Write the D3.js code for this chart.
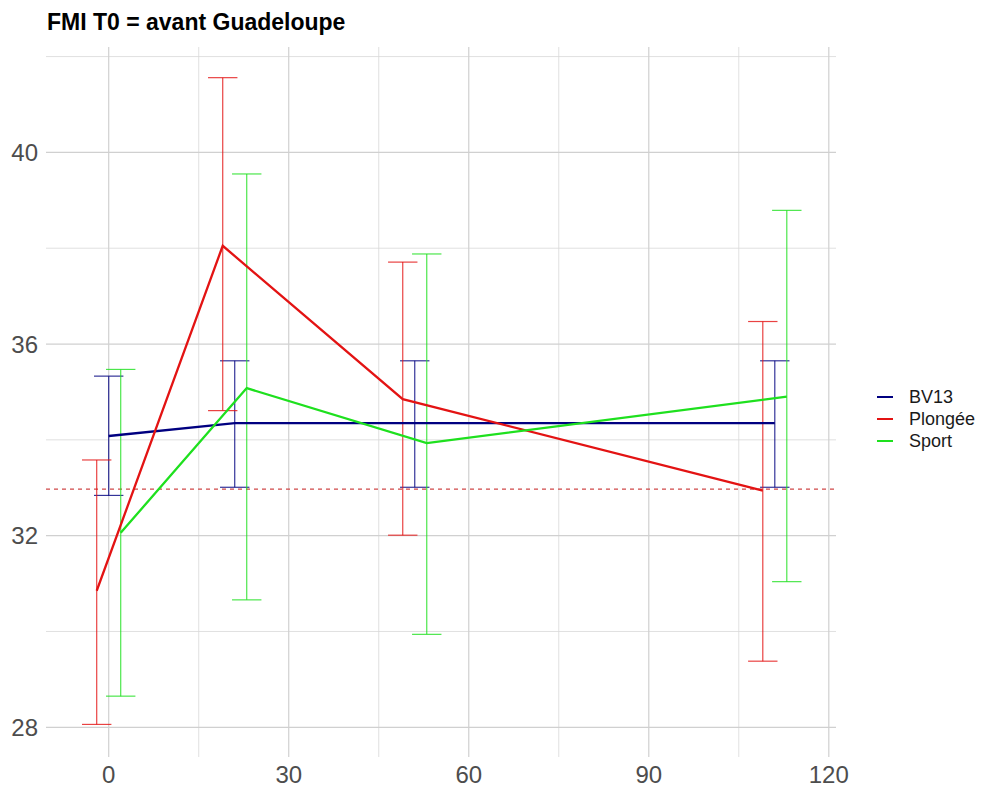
<!DOCTYPE html>
<html>
<head>
<meta charset="utf-8">
<script src="https://cdn.jsdelivr.net/npm/d3@7"></script>
<style>
  body { margin: 0; background: #fff; }
  svg { font-family: "Liberation Sans", Arial, sans-serif; }
</style>
</head>
<body>
<div id="chart"></div>
<script>
// FMI over time, mean +/- error per group

// measurement times (x)
const times = [0, 21, 51, 111];

// group names and colours
const groups = ["BV13", "Plongée", "Sport"];
const colors = ["#000080", "#e31313", "#1ee01e"];
// horizontal dodge so the bars do not overlap
const dodge = [0, -2, 2];

// means and error bar limits
const bv13Mean  = [34.08, 34.35, 34.35, 34.35];
const bv13Low   = [32.84, 33.01, 33.01, 33.01];
const bv13High  = [35.33, 35.65, 35.65, 35.65];

const plongeeMean = [30.85, 38.05, 34.85, 32.94];
const plongeeLow  = [28.06, 34.61, 32.01, 29.38];
const plongeeHigh = [33.58, 41.56, 37.71, 36.47];

const sportMean = [32.06, 35.08, 33.93, 34.90];
const sportLow  = [28.65, 30.66, 29.94, 31.04];
const sportHigh = [35.47, 39.55, 37.88, 38.79];

// reference line
const refValue = 32.97;

// ticks
const xTicks = [0, 30, 60, 90, 120];
const xMinor = [15, 45, 75, 105];
const yTicks = [28, 32, 36, 40];
const yMinor = [30, 34, 38, 42];

const width = 986, height = 789;
const panel = { left: 46, right: 836, top: 47, bottom: 757 };

const series = [
  { mean: bv13Mean, low: bv13Low, high: bv13High },
  { mean: plongeeMean, low: plongeeLow, high: plongeeHigh },
  { mean: sportMean, low: sportLow, high: sportHigh }
].map((s, i) => ({
  name: groups[i],
  color: colors[i],
  points: times.map((t, j) => ({ x: t + dodge[i], y: s.mean[j], lo: s.low[j], hi: s.high[j] }))
}));

const svg = d3.select("#chart").append("svg")
  .attr("width", width)
  .attr("height", height);

const x = d3.scaleLinear().domain([-10.45, 121.2]).range([panel.left, panel.right]);
const y = d3.scaleLinear().domain([27.38, 42.2]).range([panel.bottom, panel.top]);

// grid
const grid = svg.append("g");
grid.selectAll(".ymin").data(yMinor).enter().append("line")
  .attr("x1", panel.left).attr("x2", panel.right)
  .attr("y1", d => y(d)).attr("y2", d => y(d))
  .attr("stroke", "#d8d8d8").attr("stroke-width", 0.8);
grid.selectAll(".xmin").data(xMinor).enter().append("line")
  .attr("y1", panel.top).attr("y2", panel.bottom)
  .attr("x1", d => x(d)).attr("x2", d => x(d))
  .attr("stroke", "#d8d8d8").attr("stroke-width", 0.8);
grid.selectAll(".ymaj").data(yTicks).enter().append("line")
  .attr("x1", panel.left).attr("x2", panel.right)
  .attr("y1", d => y(d)).attr("y2", d => y(d))
  .attr("stroke", "#d0d0d0").attr("stroke-width", 1.2);
grid.selectAll(".xmaj").data(xTicks).enter().append("line")
  .attr("y1", panel.top).attr("y2", panel.bottom)
  .attr("x1", d => x(d)).attr("x2", d => x(d))
  .attr("stroke", "#d0d0d0").attr("stroke-width", 1.2);

// axis labels
svg.append("g").selectAll("text").data(yTicks).enter().append("text")
  .attr("x", 38).attr("y", d => y(d))
  .attr("dy", "0.36em")
  .attr("text-anchor", "end")
  .attr("font-size", 24).attr("fill", "#4d4d4d")
  .text(d => d);
svg.append("g").selectAll("text").data(xTicks).enter().append("text")
  .attr("x", d => x(d)).attr("y", 783)
  .attr("text-anchor", "middle")
  .attr("font-size", 24).attr("fill", "#4d4d4d")
  .text(d => d);

// dashed reference line
svg.append("line")
  .attr("x1", panel.left).attr("x2", panel.right)
  .attr("y1", y(refValue)).attr("y2", y(refValue))
  .attr("stroke", "#d04848").attr("stroke-width", 1.2)
  .attr("stroke-dasharray", "4,4");

// error bars
const capHalf = 2.45;
series.forEach(s => {
  const g = svg.append("g")
    .attr("stroke", s.color).attr("stroke-width", 1.2).attr("stroke-opacity", 0.8);
  g.selectAll(".v").data(s.points).enter().append("line")
    .attr("x1", d => x(d.x)).attr("x2", d => x(d.x))
    .attr("y1", d => y(d.lo)).attr("y2", d => y(d.hi));
  g.selectAll(".top").data(s.points).enter().append("line")
    .attr("x1", d => x(d.x - capHalf)).attr("x2", d => x(d.x + capHalf))
    .attr("y1", d => y(d.hi)).attr("y2", d => y(d.hi));
  g.selectAll(".bot").data(s.points).enter().append("line")
    .attr("x1", d => x(d.x - capHalf)).attr("x2", d => x(d.x + capHalf))
    .attr("y1", d => y(d.lo)).attr("y2", d => y(d.lo));
});

// mean lines
const line = d3.line().x(d => x(d.x)).y(d => y(d.y));
series.forEach(s => {
  svg.append("path")
    .datum(s.points)
    .attr("d", line)
    .attr("fill", "none")
    .attr("stroke", s.color)
    .attr("stroke-width", 2.3);
});

// title
svg.append("text")
  .attr("x", 47).attr("y", 30)
  .attr("font-size", 23).attr("font-weight", "bold")
  .attr("fill", "#000")
  .text("FMI T0 = avant Guadeloupe");

// legend
const legend = svg.append("g");
series.forEach((s, i) => {
  const ly = 397 + i * 22;
  legend.append("line")
    .attr("x1", 877).attr("x2", 893)
    .attr("y1", ly).attr("y2", ly)
    .attr("stroke", s.color).attr("stroke-width", 2);
  legend.append("text")
    .attr("x", 909).attr("y", ly)
    .attr("dy", "0.36em")
    .attr("font-size", 18).attr("fill", "#1a1a1a")
    .text(s.name);
});
</script>
</body>
</html>
